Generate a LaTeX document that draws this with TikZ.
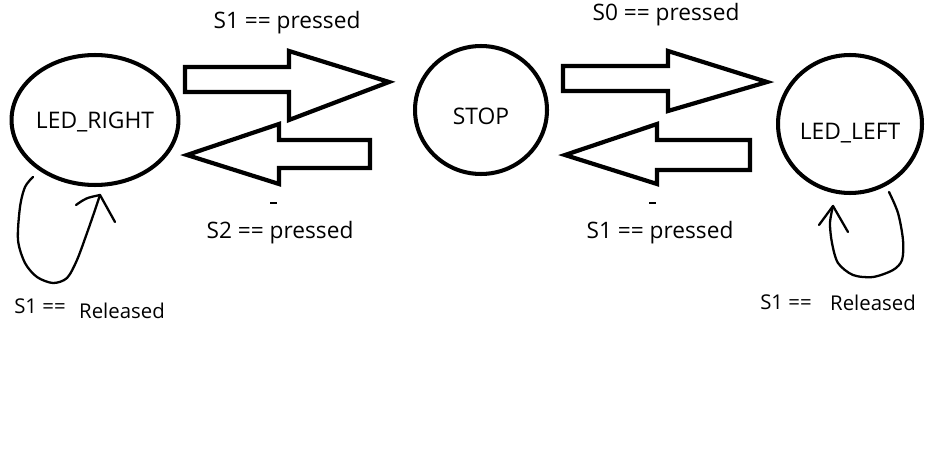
\documentclass[tikz,border=0pt]{standalone}
\usepackage{fontspec}
\setmainfont{Open Sans}
\usetikzlibrary{shapes.geometric}
\usetikzlibrary{positioning}
\tikzset{state/.style={ellipse,draw=black,line width=2.3pt,inner sep=0pt,font=\fontsize{13}{16}\selectfont}}
\tikzset{block/.style={draw=black,line width=2.4pt,line join=miter}}
\tikzset{loopline/.style={draw=black,line width=1.3pt,line cap=round,line join=round}}
\tikzset{cond/.style={anchor=base,inner sep=0pt,font=\fontsize{12.9}{16}\selectfont}}
\tikzset{small/.style={anchor=base,inner sep=0pt,font=\fontsize{11.6}{14}\selectfont}}

\begin{document}
\begin{tikzpicture}[x=0.02cm,y=-0.02cm]
\useasboundingbox (0,0) rectangle (930,456);

% states
\node[state,minimum width=2.8cm,minimum height=2.6cm] (right) at (95,120) {\raisebox{-1pt}[\height][\depth]{LED\_RIGHT}};
\node[state,minimum width=2.64cm,minimum height=2.56cm] (stop) at (481,110) {\raisebox{-3.4pt}[\height][\depth]{STOP}};
\node[state,minimum width=2.88cm,minimum height=2.76cm] (left) at (850,124) {\raisebox{-5pt}[\height][\depth]{LED\_LEFT}};

% block arrows
\draw[block] (185,67) -- (289,67) -- (289,51) -- (389,82) -- (289,120) -- (289,92) -- (185,92) -- cycle;
\draw[block] (187,155) -- (279,124) -- (279,140) -- (370,140) -- (370,168) -- (279,168) -- (279,184) -- cycle;
\draw[block] (563,66) -- (668,66) -- (668,51) -- (767,82) -- (668,111) -- (668,91) -- (563,91) -- cycle;
\draw[block] (565,155) -- (657,124) -- (657,140) -- (750,140) -- (750,170) -- (657,170) -- (657,184) -- cycle;

\node[cond] (c1) at (287,29) {S1 == pressed};
\node[cond] (c2) at (666,21) {S0 == pressed};
\node[cond] (c3) at (280,238) {S2 == pressed};
\node[cond] (c4) at (660,238) {S1 == pressed};
\draw[line width=1.2pt] (270,203) -- (277,203);
\draw[line width=1.2pt] (649,203) -- (656,203);

% self loops
\coordinate (rtip) at (100,195);
\coordinate (ltip) at (833,206);
\draw[loopline] plot[smooth] coordinates {(33,177) (25,187) (20,207) (18,240) (25,263) (37,277) (53,283) (67,278) (77,260) (87,233) (95,210) (rtip)};
\draw[loopline] (76,205) .. controls (86,198) .. (rtip) -- (115,222);
\draw[loopline] plot[smooth] coordinates {(889,192) (898,213) (903,240) (902,260) (893,270) (873,277) (853,275) (838,263) (832,243) (830,223) (ltip)};
\draw[loopline] (819,225) -- (ltip) -- (848,232);

\node[small] (r1) at (40,313) {S1 ==};
\node[small] (r2) at (122,318) {Released};
\node[small] (l1) at (786,309) {S1 ==};
\node[small] (l2) at (873,310) {Released};

\end{tikzpicture}
\end{document}
